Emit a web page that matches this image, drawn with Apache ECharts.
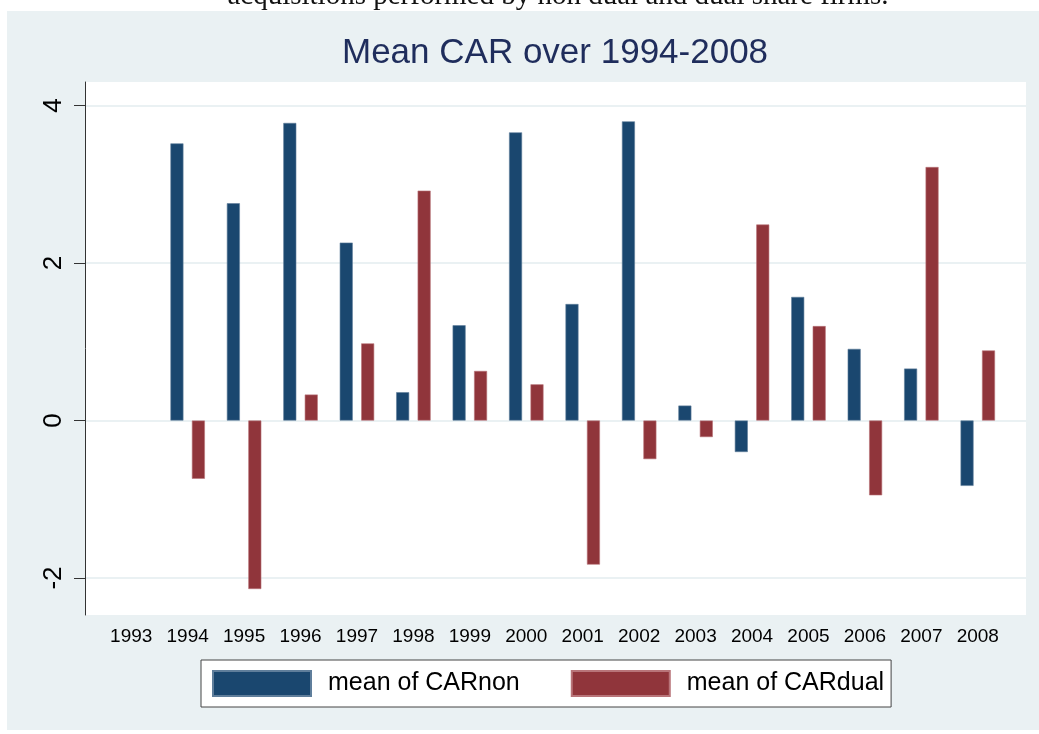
<!DOCTYPE html>
<html>
<head>
    <meta charset="utf-8">
    <title>Mean CAR over 1994-2008</title>
    <script src="https://cdn.jsdelivr.net/npm/echarts@6/dist/echarts.min.js"></script>
</head>
<body style='background-color: #ffffff;margin:0px;'>
    <div id="main" style="width: 1039px;height:734px;"></div>
    <script type="text/javascript">
        // data
        var years = ['1993', '1994', '1995', '1996', '1997', '1998', '1999', '2000',
                     '2001', '2002', '2003', '2004', '2005', '2006', '2007', '2008'];
        var carNon = [null, 3.52, 2.76, 3.78, 2.26, 0.36, 1.21, 3.66,
                      1.48, 3.80, 0.19, -0.40, 1.57, 0.91, 0.66, -0.83];
        var carDual = [null, -0.74, -2.14, 0.33, 0.98, 2.92, 0.63, 0.46,
                       -1.83, -0.49, -0.21, 2.49, 1.20, -0.95, 3.22, 0.89];
        var yTicks = [-2, 0, 2, 4];
        var yMin = -2.47, yMax = 4.30;

        var navy = '#1A476F';
        var maroon = '#90353B';
        var font = '"Liberation Sans", Arial, sans-serif';

        var myChart = echarts.init(document.getElementById('main'));

        var option = {
            backgroundColor: '#ffffff',
            animation: false,
            textStyle: { fontFamily: font },
            graphic: [
                // stata graph region
                { type: 'rect', z: -10, shape: { x: 7, y: 11, width: 1032, height: 719 },
                  style: { fill: '#EAF1F3' } },
                // caption line cut off by the page top
                { type: 'text', x: 558, y: -4, z: -5,
                  style: { text: 'acquisitions performed by non dual and dual share firms.',
                           font: '29px "Liberation Serif", "DejaVu Serif", serif',
                           fill: '#111', align: 'center', verticalAlign: 'middle' } }
            ],
            title: {
                text: 'Mean CAR over 1994-2008',
                left: 342,
                top: 36,
                padding: 0,
                textStyle: { color: '#1F2D5C', fontSize: 35, fontWeight: 'normal', fontFamily: font }
            },
            legend: {
                data: ['mean of CARnon', 'mean of CARdual'],
                left: 201,
                top: 660,
                orient: 'horizontal',
                icon: 'rect',
                itemWidth: 98,
                itemHeight: 25,
                itemGap: 51,
                padding: [10, 7, 10, 11],
                backgroundColor: '#ffffff',
                borderColor: '#444444',
                borderWidth: 1,
                textStyle: { fontSize: 25, color: '#000', fontFamily: font, padding: [0, 0, 0, 12] }
            },
            grid: [
                // plot region (white) holding the y axis and gridlines
                { left: 85, top: 82, width: 941, height: 533, show: true,
                  backgroundColor: '#ffffff', borderWidth: 0 },
                // bars, with the stata outer gap on each side
                { left: 103, top: 82, width: 903, height: 533, show: false }
            ],
            xAxis: [
                { gridIndex: 0, type: 'value', min: 0, max: 1, show: false },
                { gridIndex: 1, type: 'category', data: years,
                  axisLine: { show: false }, axisTick: { show: false },
                  axisLabel: { fontSize: 19, color: '#000', margin: 12, interval: 0, fontFamily: font } }
            ],
            yAxis: [
                { gridIndex: 0, type: 'value', min: yMin, max: yMax,
                  axisLine: { show: true, lineStyle: { color: '#333', width: 1 } },
                  axisTick: { show: true, length: 11, customValues: yTicks,
                              lineStyle: { color: '#333', width: 1 } },
                  axisLabel: { customValues: yTicks, rotate: 90, fontSize: 26, color: '#000',
                               margin: 18, fontFamily: font },
                  splitLine: { show: true, lineStyle: { color: '#E3ECEF', width: 1.5 } } },
                { gridIndex: 1, type: 'value', min: yMin, max: yMax, show: false,
                  splitLine: { show: false } }
            ],
            series: [
                { name: 'mean of CARnon', type: 'bar', xAxisIndex: 1, yAxisIndex: 1,
                  data: carNon, barWidth: 13, barGap: '65%',
                  itemStyle: { color: navy, borderColor: '#5F7E9B', borderWidth: 0.6 } },
                { name: 'mean of CARdual', type: 'bar', xAxisIndex: 1, yAxisIndex: 1,
                  data: carDual, barWidth: 13, barGap: '65%',
                  itemStyle: { color: maroon, borderColor: '#B87479', borderWidth: 0.6 } }
            ]
        };

        myChart.setOption(option);
    </script>
</body>
</html>
